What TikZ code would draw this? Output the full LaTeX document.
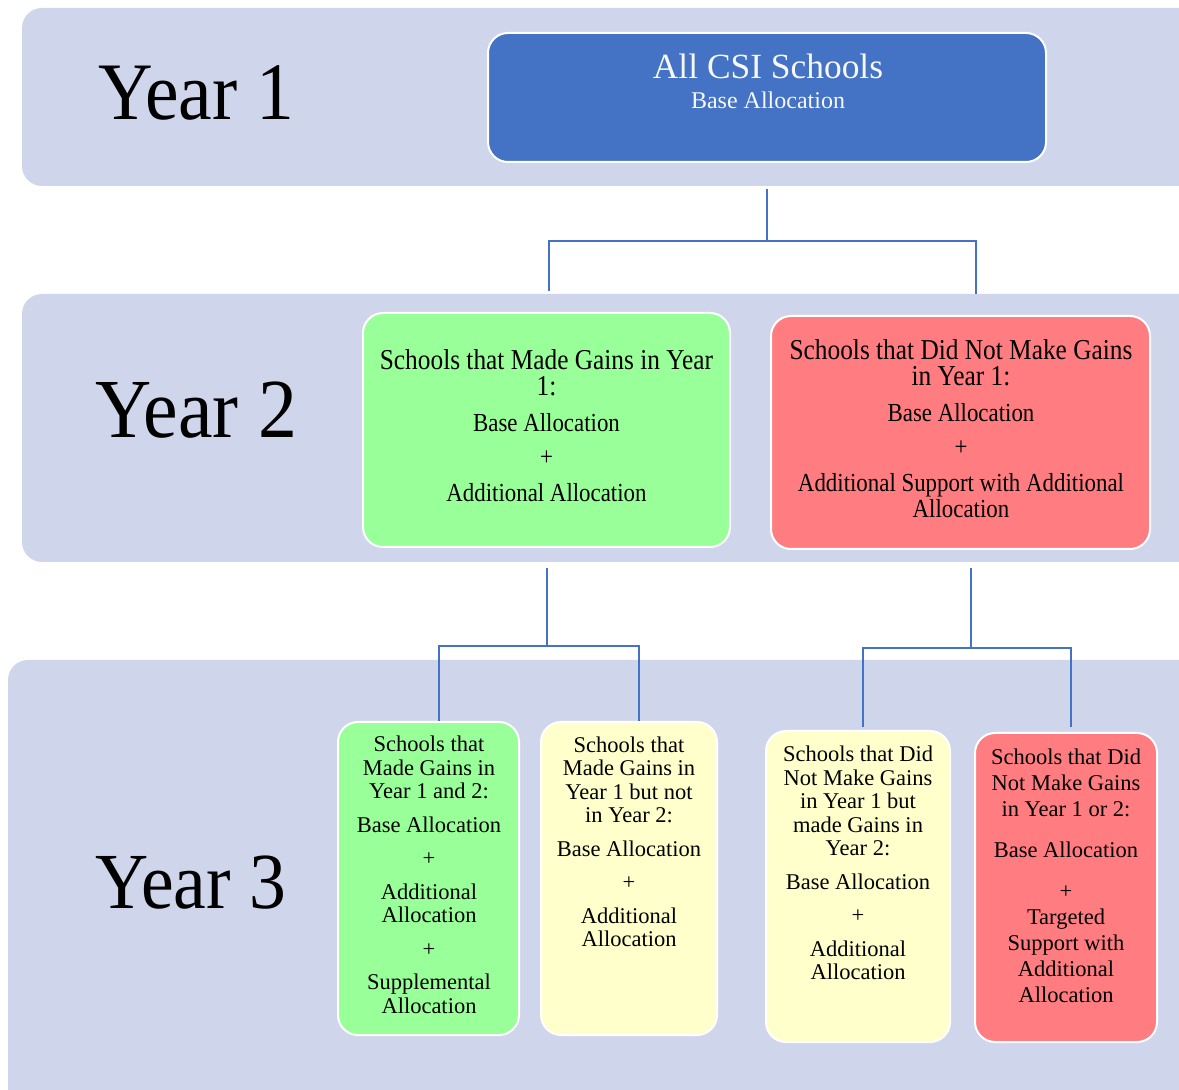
\documentclass[tikz,border=0pt]{standalone}
\usepackage{fontspec}
\setmainfont{Liberation Serif}
\newfontfamily\narrowserif[FakeStretch=0.88]{Liberation Serif}
\definecolor{band}{HTML}{CFD5EA}
\definecolor{bluebox}{HTML}{4472C4}
\definecolor{greenbox}{HTML}{99FF99}
\definecolor{yellowbox}{HTML}{FFFFCC}
\definecolor{redbox}{HTML}{FF7C80}
\definecolor{conncol}{HTML}{4472C4}
\newcommand{\ttlfont}{\fontsize{14.4}{13}\selectfont}
\tikzset{
  bandbox/.style={fill=band, rounded corners=10pt},
  boxshape/.style={draw=white, line width=1pt, rounded corners=10pt, inner sep=0pt},
  yearlabel/.style={anchor=base west, inner sep=0pt},
  ythree/.style={align=center, inner sep=0pt, font=\fontsize{11.25}{11.75}\selectfont},
  ytwo/.style={align=center, inner sep=0pt, font=\narrowserif\fontsize{13}{13}\selectfont},
  conn/.style={draw=conncol, line width=1.25pt}
}
\begin{document}
\begin{tikzpicture}[x=0.5pt, y=-0.5pt]
\useasboundingbox (0,0) rectangle (1179,1090);
\clip (0,0) rectangle (1179,1090);
% bands
\fill[bandbox] (22,8) rectangle (1220,186);
\fill[bandbox] (22,294) rectangle (1220,562);
\fill[bandbox] (8,660) rectangle (1220,1120);
% year labels
\node[yearlabel, font=\fontsize{37.8}{40}\selectfont] (y1) at (98,120) {\scalebox{1}[1.08]{Year 1}};
\node[yearlabel, font=\fontsize{38.9}{40}\selectfont] (y2) at (95,438) {\scalebox{1}[1.08]{Year 2}};
\node[yearlabel, font=\fontsize{36.8}{40}\selectfont] (y3) at (95,908) {\scalebox{1}[1.08]{Year 3}};
% boxes
\node[boxshape, fill=bluebox, minimum width=279pt, minimum height=64.5pt] (top) at (767,97.5) {};
\node[boxshape, fill=greenbox, minimum width=183.5pt, minimum height=117pt] (g2) at (546.5,430) {};
\node[boxshape, fill=redbox, minimum width=189.5pt, minimum height=116.5pt] (r2) at (960.5,432.5) {};
\node[boxshape, fill=greenbox, minimum width=90.5pt, minimum height=156.5pt] (b1) at (428.5,878.5) {};
\node[boxshape, fill=yellowbox, minimum width=88pt, minimum height=156.5pt] (b2) at (629,878.5) {};
\node[boxshape, fill=yellowbox, minimum width=92pt, minimum height=155.5pt] (b3) at (858,886.5) {};
\node[boxshape, fill=redbox, minimum width=91pt, minimum height=154.5pt] (b4) at (1066,887.5) {};
% texts
\node[align=center, inner sep=0pt, text=white!94!gray] (topt) at (768,81)
  {{\fontsize{17.7}{17}\selectfont All CSI Schools}\\[3pt]{\fontsize{12}{13}\selectfont Base Allocation}};
\node[ytwo] (g2t) at (546.5,426)
  {{\ttlfont Schools that Made Gains in Year}\\{\ttlfont 1:}\\[5pt]Base Allocation\\[4pt]+\\[5pt]Additional Allocation};
\node[ytwo] (r2t) at (961,429)
  {{\ttlfont Schools that Did Not Make Gains}\\{\ttlfont in Year 1:}\\[5pt]Base Allocation\\[4pt]+\\[5pt]Additional Support with Additional\\Allocation};
\node[ythree] (b1t) at (429,875)
  {Schools that\\Made Gains in\\Year 1 and 2:\\[5pt]Base Allocation\\[5pt]+\\[5pt]Additional\\Allocation\\[5pt]+\\[5pt]Supplemental\\Allocation};
\node[ythree] (b2t) at (629,842)
  {Schools that\\Made Gains in\\Year 1 but not\\in Year 2:\\[5pt]Base Allocation\\[5pt]+\\[5pt]Additional\\Allocation};
\node[ythree] (b3t) at (858,863)
  {Schools that Did\\Not Make Gains\\in Year 1 but\\made Gains in\\Year 2:\\[5pt]Base Allocation\\[5pt]+\\[5pt]Additional\\Allocation};
\node[ythree, font=\fontsize{11.25}{13}\selectfont] (b4t) at (1066,876)
  {Schools that Did\\Not Make Gains\\in Year 1 or 2:\\[7.5pt]Base Allocation\\[7.5pt]+\\Targeted\\Support with\\Additional\\Allocation};
% connectors
\draw[conn] ([yshift=-13pt]top.south) -- ++(0,52) -| ([xshift=1.25pt,yshift=10.5pt]g2.north);
\draw[conn] ([yshift=-13pt]top.south) -- ++(0,52) -| ([xshift=7.75pt,yshift=10.5pt]r2.north);
\draw[conn] ([xshift=0.25pt,yshift=-10pt]g2.south) -- ++(0,78) -| ([xshift=5.25pt]b1.north);
\draw[conn] ([xshift=0.25pt,yshift=-10pt]g2.south) -- ++(0,78) -| ([xshift=5pt]b2.north);
\draw[conn] ([xshift=5.25pt,yshift=-9pt]r2.south) -- ++(0,80) -| ([xshift=2.5pt,yshift=1.5pt]b3.north);
\draw[conn] ([xshift=5.25pt,yshift=-9pt]r2.south) -- ++(0,80) -| ([xshift=2.5pt,yshift=2.5pt]b4.north);
\end{tikzpicture}
\end{document}
